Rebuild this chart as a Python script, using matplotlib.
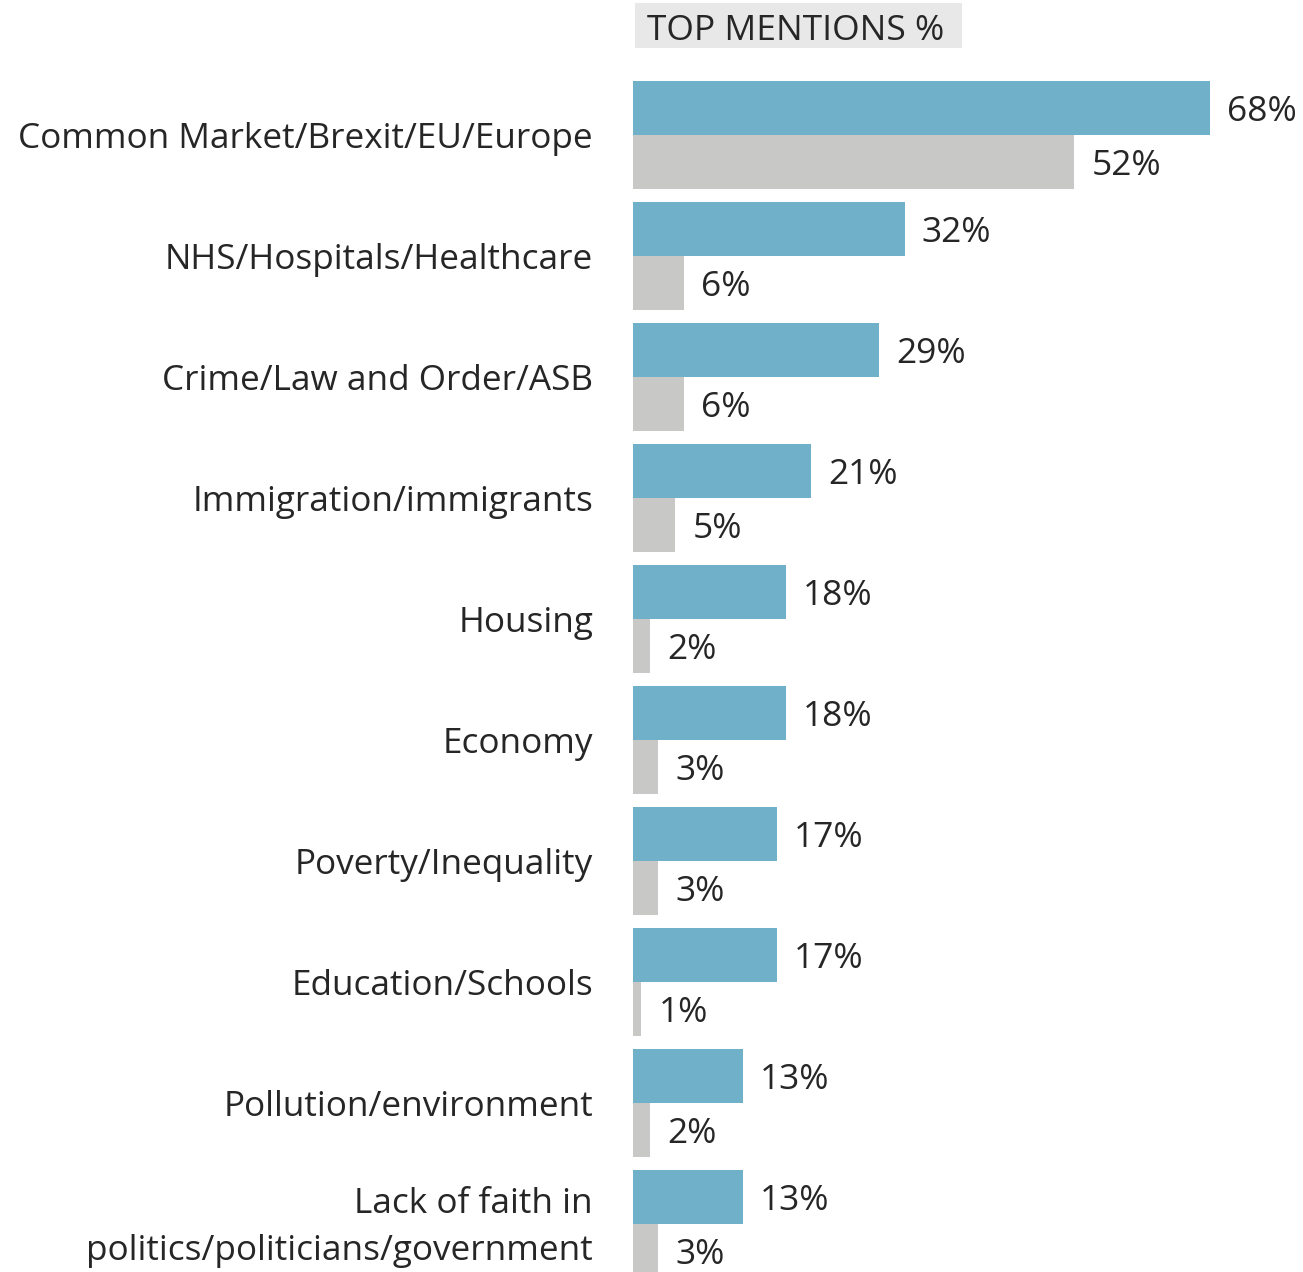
import numpy as np
import matplotlib.pyplot as plt
from matplotlib.patches import Rectangle

plt.rcParams['font.family'] = ['Open Sans', 'DejaVu Sans']

categories = [
    "Common Market/Brexit/EU/Europe",
    "NHS/Hospitals/Healthcare",
    "Crime/Law and Order/ASB",
    "Immigration/immigrants",
    "Housing",
    "Economy",
    "Poverty/Inequality",
    "Education/Schools",
    "Pollution/environment",
    "Lack of faith in\npolitics/politicians/government",
]
blue_values = [68, 32, 29, 21, 18, 18, 17, 17, 13, 13]
grey_values = [52, 6, 6, 5, 2, 3, 3, 1, 2, 3]

blue = "#70b0c8"
grey = "#c8c8c7"
text_col = "#262626"

W, H = 1303, 1272
fig = plt.figure(figsize=(W / 100, H / 100), dpi=100)
# axes starts where the bars start and spans full height
ax = fig.add_axes([633 / W, 0, 1 - 633 / W, 1])

y = np.arange(len(categories))
bh = 0.446
ax.barh(y - bh / 2, blue_values, height=bh, color=blue)
ax.barh(y + bh / 2, grey_values, height=bh, color=grey)

px_per_pct = (1210 - 633) / 68
ax.set_xlim(0, (W - 633) / px_per_pct)
ax.set_ylim((H - 135) / 121, -135 / 121)
ax.axis("off")

dy = 0.03  # small nudge so text sits like the original
for i, (b, g) in enumerate(zip(blue_values, grey_values)):
    ax.text(b + 2, i - bh / 2 + dy, f"{b}%", va="center", ha="left",
            fontsize=25.5, color=text_col)
    ax.text(g + 2, i + bh / 2 + dy, f"{g}%", va="center", ha="left",
            fontsize=25.5, color=text_col)
    ax.text(-4.7, i + dy, categories[i], va="center", ha="right",
            fontsize=25.3, color=text_col, multialignment="right",
            linespacing=1.5)

# header box
ax.add_patch(Rectangle((2 / px_per_pct, (3 - 135) / 121),
                       (962 - 635) / px_per_pct, 45 / 121,
                       fc="#e8e8e8", ec="none", clip_on=False))
ax.text(14 / px_per_pct, (40 - 135) / 121, "TOP MENTIONS %", va="baseline",
        ha="left", fontsize=25.5, color=text_col)

fig.savefig("out.png", dpi=100)
